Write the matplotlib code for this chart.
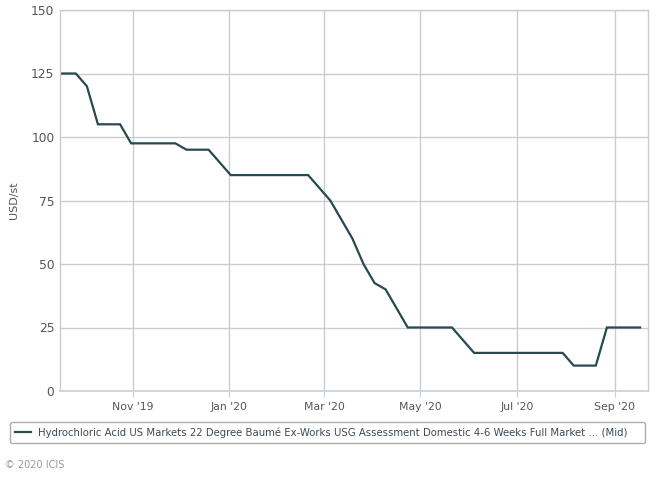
import matplotlib
matplotlib.use("Agg")
import matplotlib.pyplot as plt
import pandas as pd

dates = ["2019-09-16", "2019-09-26", "2019-10-03", "2019-10-10", "2019-10-24",
         "2019-10-31", "2019-11-28", "2019-12-05", "2019-12-19", "2020-01-02",
         "2020-02-20", "2020-03-05", "2020-03-19", "2020-03-26", "2020-04-02",
         "2020-04-09", "2020-04-23", "2020-05-21", "2020-06-04", "2020-07-30",
         "2020-08-06", "2020-08-20", "2020-08-27", "2020-09-17"]
values = [125, 125, 120, 105, 105,
          97.5, 97.5, 95, 95, 85,
          85, 75, 60, 50, 42.5,
          40, 25, 25, 15, 15,
          10, 10, 25, 25]
series_name = ("Hydrochloric Acid US Markets 22 Degree Baumé Ex-Works USG Assessment "
               "Domestic 4-6 Weeks Full Market ... (Mid)")
x_ticks = ["2019-11-01", "2020-01-01", "2020-03-01", "2020-05-01", "2020-07-01", "2020-09-01"]
x_tick_labels = ["Nov '19", "Jan '20", "Mar '20", "May '20", "Jul '20", "Sep '20"]
y_ticks = [0, 25, 50, 75, 100, 125, 150]
y_label = "USD/st"
footer = "© 2020 ICIS"

W, H = 668, 478
fig = plt.figure(figsize=(W / 100, H / 100), dpi=100)
fig.patch.set_facecolor("white")
ax = fig.add_axes([60 / W, (H - 391) / H, (648 - 60) / W, (391 - 10) / H])

d = pd.to_datetime(dates)
line, = ax.plot(d, values, color="#27494f", lw=1.6, solid_joinstyle="miter")

ax.set_xlim(pd.Timestamp("2019-09-16"), pd.Timestamp("2020-09-22"))
ax.set_ylim(0, 150)
ax.set_yticks(y_ticks)
ax.set_yticklabels([str(v) for v in y_ticks])
ax.set_xticks(pd.to_datetime(x_ticks))
ax.set_xticklabels(x_tick_labels)

grid_c = "#cccccc"
ax.grid(True, color=grid_c, lw=1.0)
ax.set_axisbelow(True)
for s in ["top", "right", "left"]:
    ax.spines[s].set_color(grid_c)
    ax.spines[s].set_linewidth(1.0)
ax.spines["bottom"].set_color("#c6d0dc")
ax.spines["bottom"].set_linewidth(1.2)

ax.tick_params(axis="y", length=0, pad=4, labelsize=8.8, labelcolor="#555555")
ax.tick_params(axis="x", length=4, color="#c6d0dc", pad=4, labelsize=7.8, labelcolor="#555555")
fig.text(14 / W, 1 - 200 / H, y_label, rotation=90, fontsize=8, color="#555555",
         ha="center", va="center")

fig.legend([line], [series_name], loc="lower left",
           bbox_to_anchor=(10 / W, (H - 443) / H, (645 - 10) / W, 25 / H),
           mode="expand", frameon=True, fancybox=True, fontsize=7.3,
           labelcolor="#3a4a5a", edgecolor="#999999", handlelength=1.6,
           handletextpad=0.7, borderpad=0.5, borderaxespad=0)

fig.text(5 / W, 1 - 465 / H, footer, fontsize=7, color="#999999", va="center", ha="left")

fig.savefig("out.png", dpi=100)
